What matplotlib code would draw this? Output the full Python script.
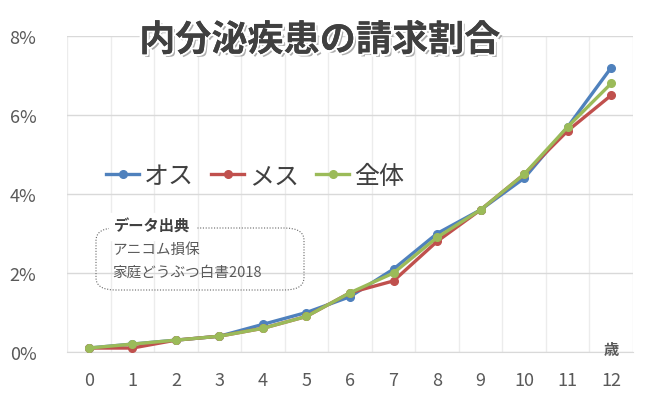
import matplotlib.pyplot as plt
import matplotlib.patheffects as pe
from matplotlib.patches import FancyBboxPatch
from matplotlib.ticker import FuncFormatter, MultipleLocator

plt.rcParams['font.family'] = ['Noto Sans CJK JP', 'DejaVu Sans']

# 年齢ごとの請求割合 (%)
ages = list(range(13))
male = [0.1, 0.2, 0.3, 0.4, 0.7, 1.0, 1.4, 2.1, 3.0, 3.6, 4.4, 5.7, 7.2]
female = [0.1, 0.1, 0.3, 0.4, 0.6, 0.9, 1.5, 1.8, 2.8, 3.6, 4.5, 5.6, 6.5]
total = [0.1, 0.2, 0.3, 0.4, 0.6, 0.9, 1.5, 2.0, 2.9, 3.6, 4.5, 5.7, 6.8]

fig = plt.figure(figsize=(6.5, 4.14), dpi=100)
ax = fig.add_axes([67 / 650, 1 - 353 / 414, 566 / 650, 316 / 414])

ax.plot(ages, male, color='#4f81bd', lw=2.4, marker='o', ms=5.5, label='オス', zorder=3)
ax.plot(ages, female, color='#c0504d', lw=2.4, marker='o', ms=5.5, label='メス', zorder=3)
ax.plot(ages, total, color='#9bbb59', lw=2.4, marker='o', ms=5.5, label='全体', zorder=4)

ax.set_xlim(-0.5, 12.5)
ax.set_ylim(0, 8)
ax.set_xticks(ages)
ax.xaxis.set_minor_locator(MultipleLocator(0.5))
ax.yaxis.set_major_locator(MultipleLocator(2))
ax.yaxis.set_major_formatter(FuncFormatter(lambda v, p: f'{v:.0f}%'))
ax.grid(axis='y', which='major', color='#d9d9d9', lw=1)
ax.grid(axis='x', which='minor', color='#ececec', lw=1)
ax.set_axisbelow(True)
for s in ['top', 'right', 'left']:
    ax.spines[s].set_visible(False)
ax.spines['bottom'].set_color('#d9d9d9')
ax.tick_params(which='both', length=0, labelsize=13, labelcolor='#595959')
ax.tick_params(axis='x', pad=14)
ax.tick_params(axis='y', pad=22)

leg = ax.legend(loc='upper left', bbox_to_anchor=(0.03, 0.67), ncol=3, frameon=False,
                fontsize=18, handlelength=1.3, handletextpad=0.2, columnspacing=0.7,
                labelcolor='#404040')

# タイトル
fig.text(0.492, 0.9, '内分泌疾患の請求割合', ha='center', va='center', fontsize=26,
         fontweight='bold', color='#404040',
         path_effects=[pe.withStroke(linewidth=4, foreground='white'),
                       pe.SimplePatchShadow(offset=(2, -2), shadow_rgbFace='#999999', alpha=0.8),
                       pe.withStroke(linewidth=3, foreground='white'),
                       pe.Normal()])

# データ出典
box = FancyBboxPatch((96 / 650, 1 - 291 / 414), 208 / 650, 62 / 414,
                     boxstyle='round,pad=0,rounding_size=0.03', transform=fig.transFigure,
                     fill=False, ec='#666666', lw=0.8, ls=(0, (1, 1.5)))
fig.patches.append(box)
fig.text(114 / 650, 1 - 227 / 414, 'データ出典', fontsize=11, fontweight='bold',
         color='#404040', va='center', backgroundcolor='white')
fig.text(112 / 650, 1 - 250 / 414, 'アニコム損保', fontsize=10.5, color='#595959', va='center')
fig.text(112 / 650, 1 - 273 / 414, '家庭どうぶつ白書2018', fontsize=10.5, color='#595959', va='center')

fig.text(611 / 650, 1 - 350 / 414, '歳', fontsize=11, fontweight='bold', color='#595959',
         ha='center', va='center')

fig.savefig('out.png', dpi=100)
